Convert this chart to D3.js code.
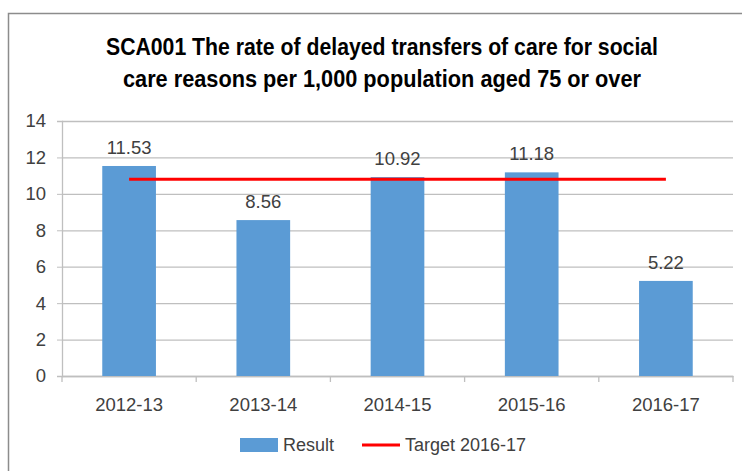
<!DOCTYPE html>
<html>
<head>
<meta charset="utf-8">
<script src="https://cdn.jsdelivr.net/npm/d3@7"></script>
<style>
  body { margin: 0; background: #fff; }
  svg text { font-family: "Liberation Sans", Arial, sans-serif; fill: #404040; }
  .title { font-weight: bold; fill: #000; }
</style>
</head>
<body>
<div id="chart"></div>
<script>
const years = ["2012-13", "2013-14", "2014-15", "2015-16", "2016-17"];
const results = [11.53, 8.56, 10.92, 11.18, 5.22];
const target = 10.8;
const yTicks = [0, 2, 4, 6, 8, 10, 12, 14];
const titleLines = [
  "SCA001 The rate of delayed transfers of care for social",
  "care reasons per 1,000 population  aged 75 or over"
];
const titleWidths = [552, 518];

const W = 742, H = 471;
const margin = {top: 121, right: 9, bottom: 95, left: 62},
  width = W - margin.left - margin.right,
  height = H - margin.top - margin.bottom;

const root = d3.select("#chart")
  .append("svg")
  .attr("width", W)
  .attr("height", H);

// chart border
root.append("rect")
  .attr("x", 8.5).attr("y", 13.5)
  .attr("width", W).attr("height", H)
  .attr("fill", "none")
  .attr("stroke", "#8c8c8c")
  .attr("stroke-width", 1.5);

root.selectAll("text.title")
  .data(titleLines)
  .enter()
  .append("text")
  .attr("class", "title")
  .attr("x", 382)
  .attr("y", (d, i) => 55 + i * 32)
  .attr("text-anchor", "middle")
  .attr("textLength", (d, i) => titleWidths[i])
  .attr("lengthAdjust", "spacingAndGlyphs")
  .style("font-size", "23px")
  .text(d => d);

const svg = root.append("g")
  .attr("transform", `translate(${margin.left}, ${margin.top})`);

const x = d3.scaleBand()
  .domain(years)
  .range([0, width])
  .paddingInner(0.6)
  .paddingOuter(0.3);

const xc = d3.scalePoint()
  .domain(years)
  .range([0, width])
  .padding(0.5);

const y = d3.scaleLinear()
  .domain([0, 14])
  .range([height, 0]);

// grid lines
svg.append("g")
  .attr("class", "grid")
  .call(d3.axisLeft(y)
    .tickValues(yTicks)
    .tickSize(-width)
    .tickFormat(""))
  .call(g => g.select(".domain").remove())
  .call(g => g.selectAll("line").attr("stroke", "#bfbfbf").attr("stroke-width", 1.3));

// y axis
svg.append("g")
  .call(d3.axisLeft(y).tickValues(yTicks).tickSize(5).tickPadding(11))
  .call(g => g.select(".domain").attr("stroke", "#bfbfbf").attr("stroke-width", 1.3))
  .call(g => g.selectAll("line").attr("stroke", "#bfbfbf"))
  .call(g => g.selectAll("text").style("font-size", "18.5px").attr("fill", "#404040"));

// x axis: ticks between categories
const step = width / years.length;
svg.append("g")
  .attr("transform", `translate(0, ${height})`)
  .call(d3.axisBottom(x).tickSize(0).tickPadding(22))
  .call(g => g.select(".domain").attr("stroke", "#bfbfbf").attr("stroke-width", 1.3))
  .call(g => g.selectAll("text").style("font-size", "18.5px").attr("fill", "#404040"));

svg.append("g")
  .selectAll("line")
  .data(d3.range(years.length + 1))
  .enter()
  .append("line")
  .attr("x1", d => d * step).attr("x2", d => d * step)
  .attr("y1", height).attr("y2", height + 6)
  .attr("stroke", "#bfbfbf")
  .attr("stroke-width", 1.3);

svg.append("g")
  .selectAll("rect")
  .data(results)
  .enter()
  .append("rect")
  .attr("x", (d, i) => x(years[i]))
  .attr("y", d => y(d))
  .attr("width", x.bandwidth())
  .attr("height", d => height - y(d))
  .attr("fill", "#5b9bd5");

svg.append("g")
  .selectAll("text")
  .data(results)
  .enter()
  .append("text")
  .attr("x", (d, i) => xc(years[i]))
  .attr("y", d => y(d) - 12)
  .attr("text-anchor", "middle")
  .style("font-size", "18.5px")
  .text(d => d.toFixed(2));

// target line
svg.append("line")
  .attr("x1", xc(years[0]))
  .attr("x2", xc(years[years.length - 1]))
  .attr("y1", y(target))
  .attr("y2", y(target))
  .attr("stroke", "#ff0000")
  .attr("stroke-width", 3);

// legend
const legend = root.append("g");
legend.append("rect")
  .attr("x", 240).attr("y", 438)
  .attr("width", 38).attr("height", 14)
  .attr("fill", "#5b9bd5");
legend.append("text")
  .attr("x", 283).attr("y", 451)
  .style("font-size", "18px")
  .text("Result");
legend.append("line")
  .attr("x1", 362).attr("x2", 400)
  .attr("y1", 445).attr("y2", 445)
  .attr("stroke", "#ff0000")
  .attr("stroke-width", 3);
legend.append("text")
  .attr("x", 405).attr("y", 451)
  .style("font-size", "18px")
  .text("Target 2016-17");
</script>
</body>
</html>
